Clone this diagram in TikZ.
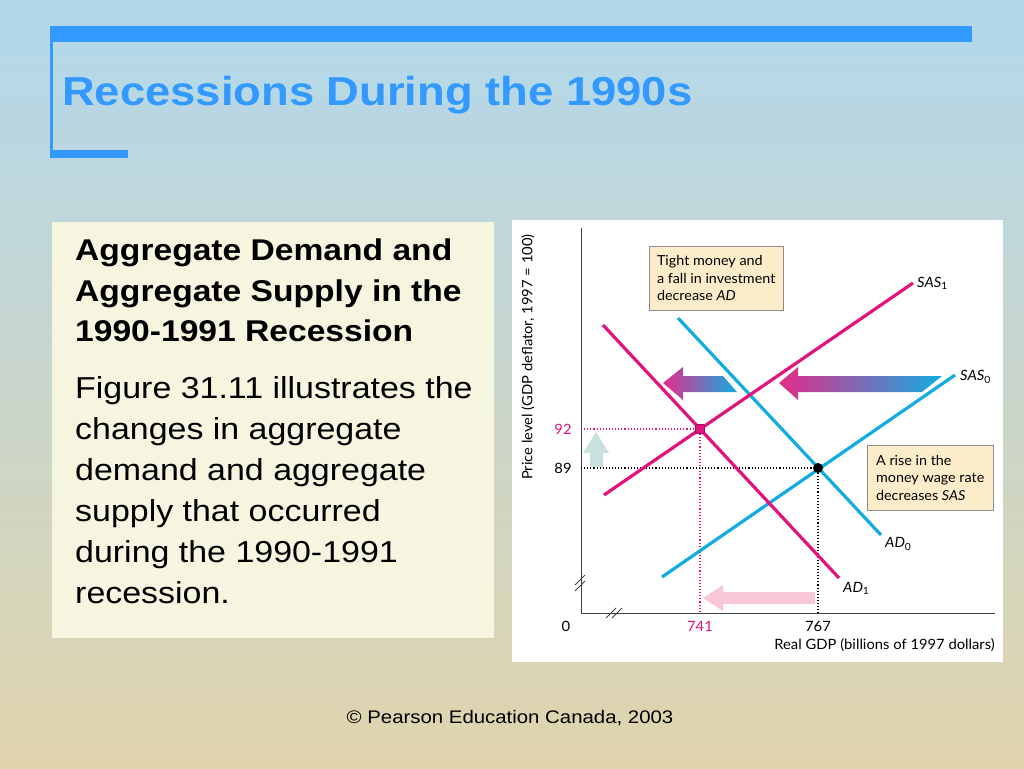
\documentclass[tikz,border=0pt]{standalone}
\usepackage{fontspec}
\setmainfont[FakeStretch=1.12]{Liberation Sans}
\newfontfamily\chartfont[FakeStretch=1.04]{Lato}
\usetikzlibrary{arrows.meta}
\usetikzlibrary{positioning}

\definecolor{titleblue}{RGB}{51,153,255}
\definecolor{skytop}{RGB}{178,216,236}
\definecolor{skymid}{RGB}{182,216,232}
\definecolor{wheatlow}{RGB}{224,212,172}
\definecolor{panelcream}{RGB}{245,245,224}
\definecolor{notecream}{RGB}{252,236,202}
\definecolor{admagenta}{RGB}{224,20,124}
\definecolor{adcyan}{RGB}{18,172,226}
\definecolor{palecyan}{RGB}{200,224,222}
\definecolor{palepink}{RGB}{248,200,214}

\begin{document}
\begin{tikzpicture}[x=1pt, y=-1pt,
    curve/.style={line width=3.2pt},
    guide/.style={dotted, line width=1.1pt},
    note/.style={draw=black!45, fill=notecream, anchor=north west, align=left,
      font=\chartfont\fontsize{13.8}{17.5}\selectfont, inner xsep=5pt, inner ysep=4pt},
    chartlbl/.style={font=\chartfont\fontsize{14.2}{16}\selectfont, inner sep=1pt}]
      \useasboundingbox (0,0) rectangle (1024,768);
      \def\headsize{30}

      % slide
      \shade[top color=skytop, middle color=skymid, bottom color=wheatlow] (0,0) rectangle (1024,768);
      \fill[titleblue] (50,26) rectangle (972,42);
      \fill[titleblue] (50,42) rectangle (53,158);
      \fill[titleblue] (50,150) rectangle (128,158);
      \node[anchor=base west, inner sep=0pt, text=titleblue,
        font=\fontsize{40.5}{48}\selectfont\bfseries] (title) at (62,105) {Recessions During the 1990s};

      \fill[panelcream] (52,222) rectangle (494,638);
      \node[anchor=north west, align=left, inner sep=0pt,
        font=\fontsize{\headsize}{40.5}\selectfont\bfseries] (heading) at (75,239)
        {Aggregate Demand and\\Aggregate Supply in the\\1990-1991 Recession};
      \node[below right=34pt and 0pt of heading.south west, align=left, inner sep=0pt,
        font=\fontsize{30.3}{41}\selectfont] (body)
        {Figure 31.11 illustrates the\\changes in aggregate\\demand and aggregate\\supply that occurred\\during the 1990-1991\\recession.};

      \node[font=\fontsize{18.2}{22}\selectfont] (credit) at (510,718) {© Pearson Education Canada, 2003};

      % chart
      \fill[white] (512,220) rectangle (1003,662);
      \coordinate (origin) at (581,613);
      \coordinate (ytop) at (581,228);
      \coordinate (xend) at (995,613);
      \draw[black!75, line width=1pt] (ytop) -- (origin) -- (xend);
      \draw[black!75, line width=1pt] (575,585) -- (585,575) (575,591) -- (585,581);
      \draw[black!75, line width=1pt] (606,618) -- (616,608) (612,618) -- (622,608);

      \node[chartlbl, rotate=90] (ylabel) at (528,357) {Price level (GDP deflator, 1997 = 100)};
      \node[chartlbl, anchor=east] (xlabel) at (996,645) {Real GDP (billions of 1997 dollars)};
      \node[chartlbl] (zero) at (566,626) {0};

      \coordinate (e1) at (700,429);
      \coordinate (e0) at (818,468);
      \draw[guide, admagenta] (e1 -| origin) -- (e1) -- (e1 |- origin);
      \draw[guide, black] (e0 -| origin) -- (e0) -- (e0 |- origin);
      \node[chartlbl, text=admagenta] (p92) at (563,429) {92};
      \node[chartlbl] (p89) at (563,468) {89};
      \node[chartlbl, text=admagenta] (y741) at (700,626) {741};
      \node[chartlbl] (y767) at (818,626) {767};

      % shift arrows
      \fill[palecyan] (596,432) -- (583,453) -- (590,453) -- (590,467) -- (603,467) -- (603,453) -- (609,453) -- cycle;
      \fill[palepink] (703,598) -- (723,585) -- (723,592) -- (815,592) -- (815,604) -- (723,604) -- (723,611) -- cycle;
      \shade[left color=admagenta!90, right color=adcyan] (663,383) -- (683,367) -- (683,376) -- (723,376)
        -- (737,392) -- (683,392) -- (683,400) -- cycle;
      \shade[left color=admagenta!90, right color=adcyan] (779,383) -- (798,367) -- (798,376) -- (942,376)
        -- (922,392) -- (798,392) -- (798,400) -- cycle;

      % curves
      \coordinate (sas1a) at (604,495);
      \coordinate (sas1b) at (913,283);
      \coordinate (sas0a) at (662,577);
      \coordinate (sas0b) at (955,375);
      \coordinate (ad0a) at (678,318);
      \coordinate (ad0b) at (881,535);
      \coordinate (ad1a) at (603,325);
      \coordinate (ad1b) at (839,578);
      \draw[curve, adcyan] (ad0a) -- (ad0b);
      \draw[curve, adcyan] (sas0a) -- (sas0b);
      \draw[curve, admagenta] (ad1a) -- (ad1b);
      \draw[curve, admagenta] (sas1a) -- (sas1b);
      \node[chartlbl, anchor=west] (sas1lbl) at (916,283) {\itshape SAS\textsubscript{\upshape 1}};
      \node[chartlbl, anchor=west] (sas0lbl) at (959,377) {\itshape SAS\textsubscript{\upshape 0}};
      \node[chartlbl, anchor=west] (ad0lbl) at (884,544) {\itshape AD\textsubscript{\upshape 0}};
      \node[chartlbl, anchor=west] (ad1lbl) at (842,588) {\itshape AD\textsubscript{\upshape 1}};

      \node[draw=admagenta!70!black, fill=admagenta, rounded corners=1.5pt, line width=0.8pt,
        minimum size=9pt, inner sep=0pt] (e1mark) at (e1) {};
      \node[circle, fill=black, minimum size=10pt, inner sep=0pt] (e0mark) at (e0) {};

      % notes
      \node[note, minimum width=134pt, minimum height=64pt] (money) at (649,246)
        {Tight money and\\a fall in investment\\decrease \textit{AD}};
      \node[note, minimum width=126pt, minimum height=65pt] (wage) at (867,445)
        {A rise in the\\money wage rate\\decreases \textit{SAS}};

    \end{tikzpicture}
\end{document}
